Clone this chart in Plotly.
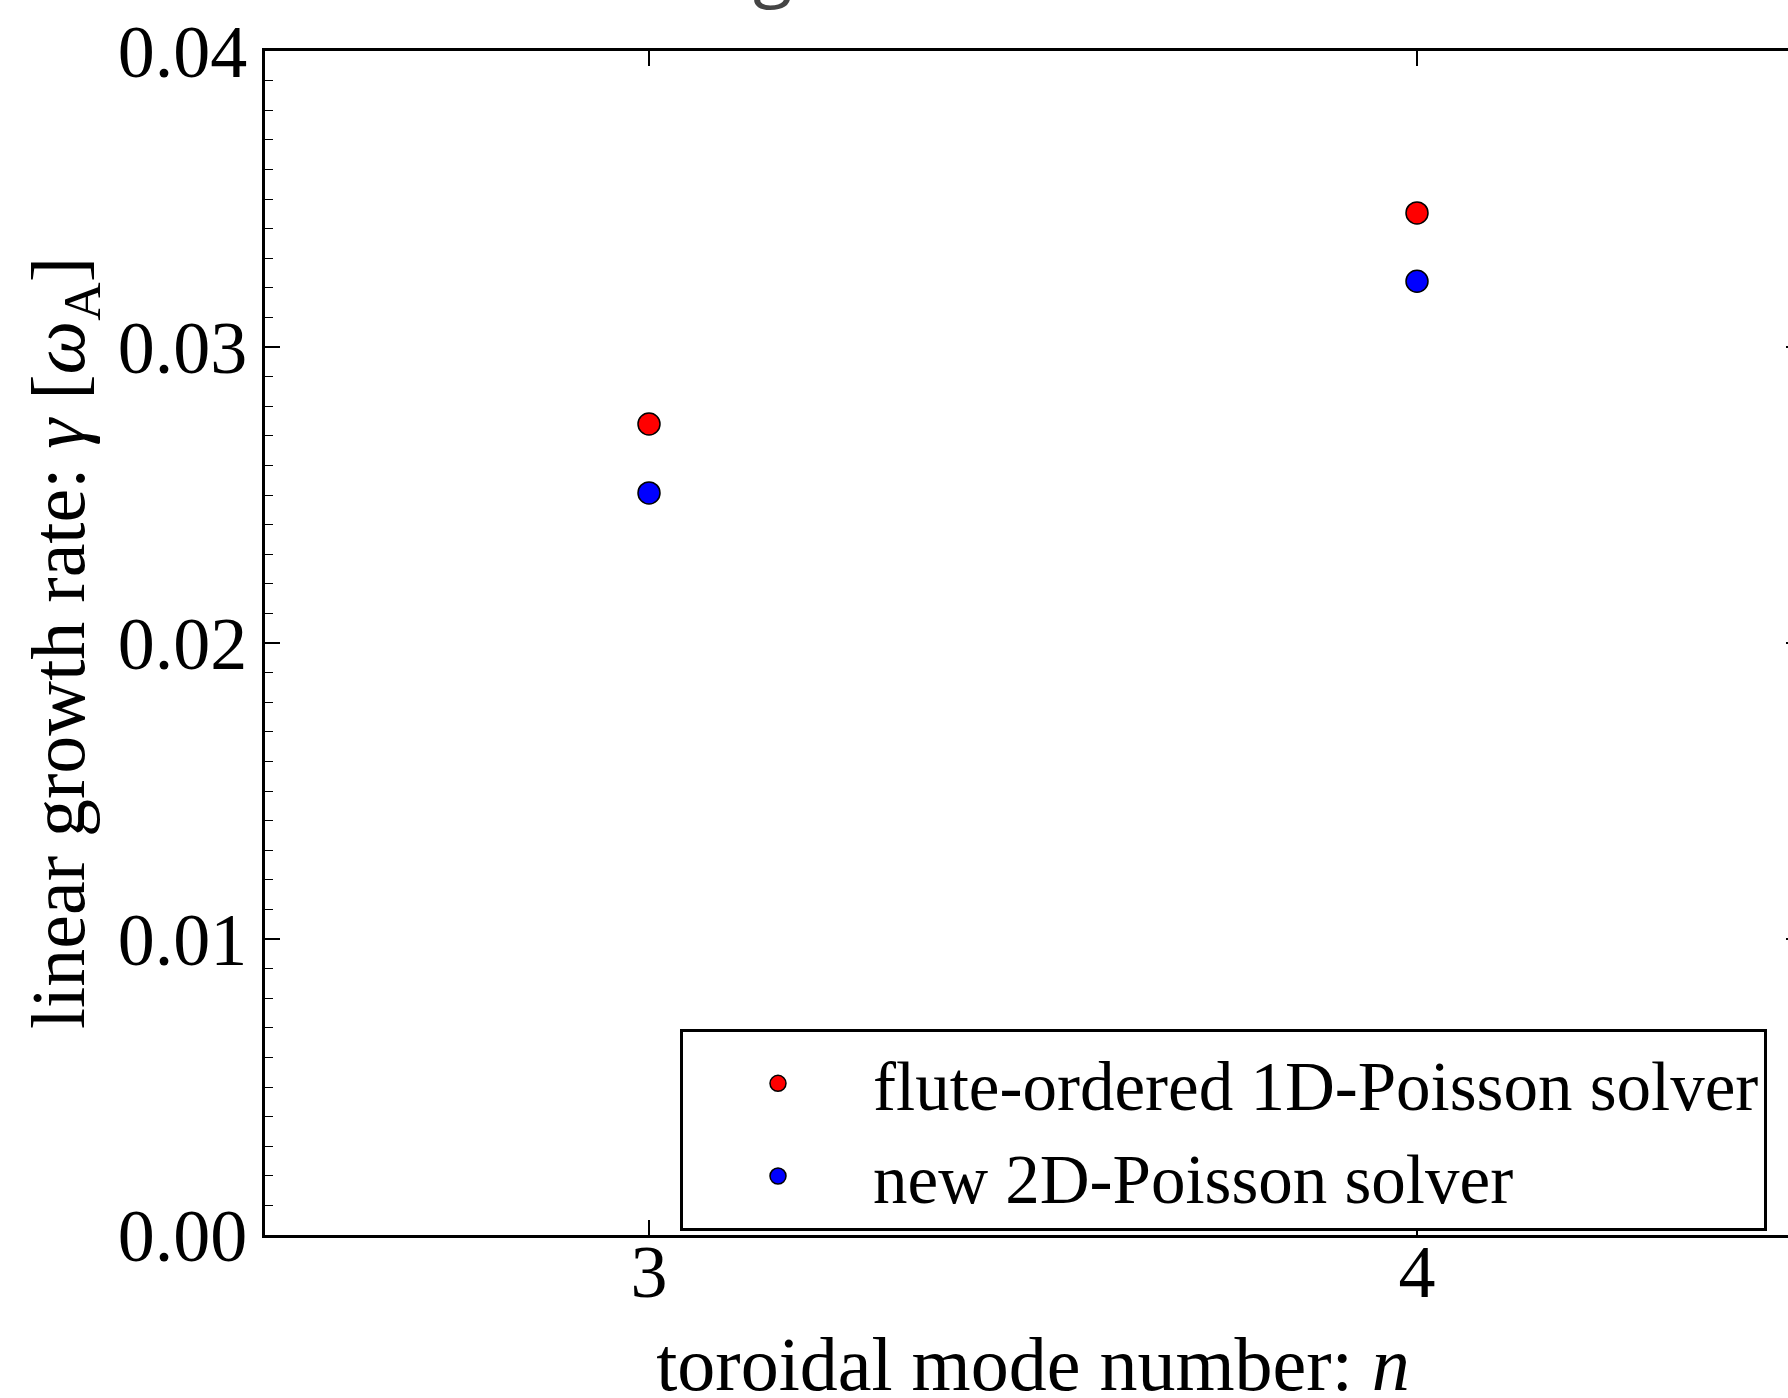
import plotly.graph_objects as go

# ---- data ----
mode_numbers = [3, 4]
flute_1d = [0.0274, 0.03453]
new_2d = [0.02507, 0.03222]
series_names = ["flute-ordered 1D-Poisson solver", "new 2D-Poisson solver"]
y_tick_values = [0.00, 0.01, 0.02, 0.03, 0.04]
x_tick_values = [3, 4]

# The reference is a crop of a slightly larger figure: the page is made a bit
# larger than the 1788x1398 window and the overflow is hidden.
W, H = 1810, 1406
L, T = 265, 51
R = W - 1801
B = H - 1235
SERIF = "Liberation Serif, Times New Roman, serif"

fig = go.Figure()
fig.add_trace(go.Scatter(
    x=mode_numbers, y=flute_1d, mode="markers", name=series_names[0],
    marker=dict(color="#ff0000", size=22, line=dict(color="#000000", width=1.5)),
))
fig.add_trace(go.Scatter(
    x=mode_numbers, y=new_2d, mode="markers", name=series_names[1],
    marker=dict(color="#0000ff", size=22, line=dict(color="#000000", width=1.5)),
))

pw = W - L - R
ph = H - T - B

fig.update_layout(
    width=W, height=H,
    margin=dict(l=L, r=R, t=T, b=B, pad=0, autoexpand=False),
    paper_bgcolor="white", plot_bgcolor="white",
    font=dict(family=SERIF, color="black", size=74),
    showlegend=True,
    legend=dict(
        x=(680 - L) / pw, xanchor="left",
        y=(1235 - 1130) / ph, yanchor="middle",
        bgcolor="white", bordercolor="black", borderwidth=3,
        font=dict(family=SERIF, size=69, color="black"),
        itemwidth=180, tracegroupgap=0,
    ),
    xaxis=dict(
        range=[2.5, 4.5], tickvals=x_tick_values, ticktext=[str(v) for v in x_tick_values],
        ticks="inside", ticklen=15, tickwidth=1.5, tickcolor="black",
        showline=True, mirror="ticks", linecolor="black", linewidth=3,
        showgrid=False, zeroline=False,
        tickfont=dict(family=SERIF, size=74, color="black"),
        title=dict(text="toroidal mode number: <i>n</i>", standoff=60,
                   font=dict(family=SERIF, size=76, color="black")),
        ticklabelstandoff=-30, automargin=False,
    ),
    yaxis=dict(
        range=[0, 0.04], tickvals=y_tick_values, tickformat=".2f",
        ticks="inside", ticklen=15, tickwidth=1.5, tickcolor="black",
        minor=dict(dtick=0.001, ticks="inside", ticklen=8, tickwidth=1.2, tickcolor="black"),
        showline=True, mirror="ticks", linecolor="black", linewidth=3,
        showgrid=False, zeroline=False,
        tickfont=dict(family=SERIF, size=74, color="black"),
        title=dict(text="linear growth rate: <i>γ</i> [<i>ω</i><sub>A</sub>]", standoff=9,
                   font=dict(family=SERIF, size=76, color="black")),
        ticklabelstandoff=0, automargin=False,
    ),
)

# cropped title remnant at the very top
fig.add_annotation(
    text="g", xref="paper", yref="paper",
    x=(772 - L) / pw, y=(1235 - 16) / ph,
    xanchor="center", yanchor="bottom", showarrow=False,
    font=dict(family="Open Sans, sans-serif", size=72, color="#444444"),
)

fig.write_html(
    "out.html",
    config={"displayModeBar": False},
    post_script="document.body.style.margin='0px';document.body.style.overflow='hidden';",
)
